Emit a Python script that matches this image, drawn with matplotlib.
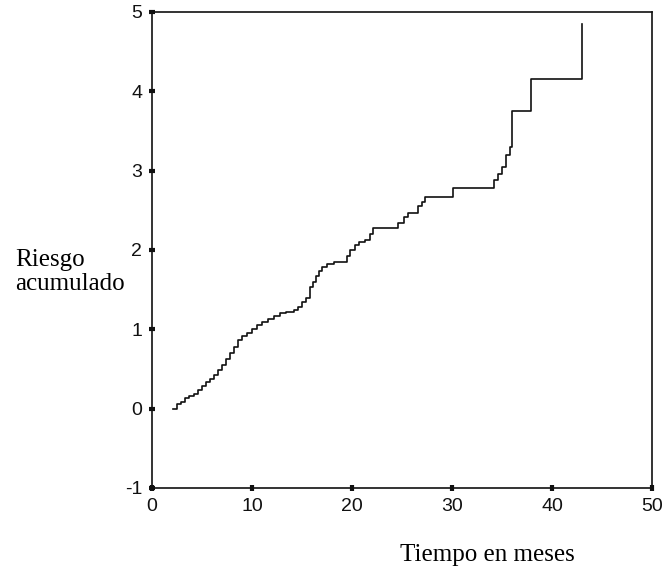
import matplotlib
matplotlib.use("Agg")
import matplotlib.pyplot as plt

# Cumulative hazard by event time (months)
tiempo = [2.1, 2.5, 2.9, 3.3, 3.7, 4.2, 4.6, 5.0, 5.4, 5.8, 6.2, 6.6, 7.0,
          7.4, 7.8, 8.2, 8.6, 9.0, 9.5, 10.0, 10.5, 11.0, 11.6, 12.2, 12.8,
          13.4, 14.2, 14.6, 15.0, 15.4, 15.8, 16.1, 16.4, 16.7, 17.0, 17.5,
          18.2, 19.5, 19.8, 20.3, 20.7, 21.3, 21.8, 22.1, 24.6, 25.2, 25.6,
          26.6, 27.0, 27.3, 30.1, 34.2, 34.6, 35.0, 35.4, 35.8, 36.0, 37.9,
          43.0]
riesgo = [0.00, 0.06, 0.09, 0.13, 0.16, 0.19, 0.24, 0.28, 0.33, 0.38, 0.43,
          0.49, 0.55, 0.62, 0.70, 0.78, 0.86, 0.91, 0.95, 1.00, 1.05, 1.09,
          1.13, 1.17, 1.20, 1.22, 1.24, 1.28, 1.34, 1.40, 1.53, 1.60, 1.67,
          1.73, 1.79, 1.82, 1.85, 1.92, 2.00, 2.06, 2.10, 2.13, 2.20, 2.28,
          2.34, 2.42, 2.47, 2.55, 2.60, 2.67, 2.78, 2.88, 2.96, 3.05, 3.20,
          3.30, 3.75, 4.15, 4.85]

x_ticks = [0, 10, 20, 30, 40, 50]
y_ticks = [-1, 0, 1, 2, 3, 4, 5]

tick_font = ["Liberation Sans Narrow", "Liberation Sans", "DejaVu Sans"]
label_font = ["Liberation Serif", "DejaVu Serif"]

fig = plt.figure(figsize=(6.64, 5.71), dpi=100)
ax = fig.add_axes([152 / 664, 1 - 488 / 571, 500 / 664, 476 / 571])

ax.step(tiempo, riesgo, where="post", color="#111111", lw=1.2)

ax.set_xlim(0, 50)
ax.set_ylim(-1, 5)
ax.set_xticks(x_ticks)
ax.set_yticks(y_ticks)
ax.set_xticklabels([str(v) for v in x_ticks], fontfamily=tick_font, fontsize=14)
ax.set_yticklabels([str(v) for v in y_ticks], fontfamily=tick_font, fontsize=14)
ax.tick_params(direction="inout", length=4, width=3, colors="#111111")
ax.tick_params(axis="x", pad=5)
ax.tick_params(axis="y", pad=5)

for s in ax.spines.values():
    s.set_linewidth(1.2)
    s.set_color("#111111")

fig.text(15 / 664, 1 - 272 / 571, "Riesgo\nacumulado", ha="left", va="center",
         fontfamily=label_font, fontsize=18, linespacing=1.1)
fig.text(400 / 664, 1 - 555 / 571, "Tiempo en meses", ha="left", va="center",
         fontfamily=label_font, fontsize=18)

fig.savefig("out.png", dpi=100, facecolor="white")
